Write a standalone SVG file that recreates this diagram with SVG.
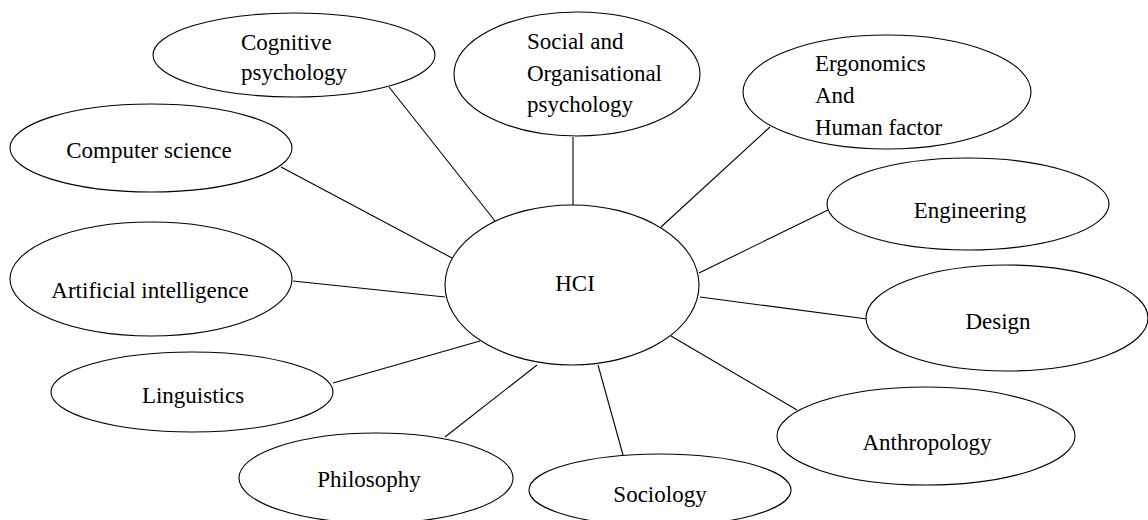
<svg xmlns="http://www.w3.org/2000/svg" width="1148" height="520" viewBox="0 0 1148 520">
  <style>
    .node ellipse { fill: #ffffff; stroke: #000000; stroke-width: 1.1; }
    .node text { font-family: "Liberation Serif", "Times New Roman", serif; font-size: 23px; fill: #000000; }
    .mid { text-anchor: middle; }
    #connectors line { stroke: #000000; stroke-width: 1.1; }
  </style>
  <rect width="1148" height="520" fill="#ffffff"/>

  <!-- spokes from the central HCI ellipse to each discipline -->
  <g id="connectors">
    <line x1="389" y1="87" x2="495" y2="221"/>
    <line x1="573" y1="137" x2="573" y2="205"/>
    <line x1="770" y1="127" x2="661" y2="227"/>
    <line x1="281" y1="167" x2="452" y2="258"/>
    <line x1="828" y1="210" x2="699" y2="273"/>
    <line x1="293" y1="281" x2="445" y2="297"/>
    <line x1="867" y1="319" x2="700" y2="297"/>
    <line x1="333" y1="383" x2="480" y2="341"/>
    <line x1="797" y1="410" x2="671" y2="336"/>
    <line x1="445" y1="437" x2="537" y2="365"/>
    <line x1="623" y1="455" x2="598" y2="365"/>
  </g>

  <g id="hci" class="node">
    <ellipse cx="572" cy="285" rx="127" ry="80"/>
    <text class="mid" x="575" y="291">HCI</text>
  </g>

  <g id="cognitive-psychology" class="node">
    <ellipse cx="294" cy="55" rx="141" ry="42"/>
    <text x="241" y="50">Cognitive</text>
    <text x="241" y="80">psychology</text>
  </g>

  <g id="social-organisational-psychology" class="node">
    <ellipse cx="577" cy="74" rx="123" ry="62"/>
    <text x="527" y="49">Social and</text>
    <text x="527" y="81">Organisational</text>
    <text x="527" y="112">psychology</text>
  </g>

  <g id="ergonomics" class="node">
    <ellipse cx="887" cy="92" rx="144" ry="57"/>
    <text x="815" y="71">Ergonomics</text>
    <text x="815" y="103">And</text>
    <text x="815" y="135">Human factor</text>
  </g>

  <g id="computer-science" class="node">
    <ellipse cx="151" cy="148" rx="141" ry="44"/>
    <text class="mid" x="149" y="158">Computer science</text>
  </g>

  <g id="engineering" class="node">
    <ellipse cx="968" cy="204" rx="141" ry="46"/>
    <text class="mid" x="970" y="218">Engineering</text>
  </g>

  <g id="artificial-intelligence" class="node">
    <ellipse cx="151" cy="279" rx="141" ry="57"/>
    <text class="mid" x="150" y="298">Artificial intelligence</text>
  </g>

  <g id="design" class="node">
    <ellipse cx="1007" cy="318" rx="141" ry="53"/>
    <text class="mid" x="998" y="329">Design</text>
  </g>

  <g id="linguistics" class="node">
    <ellipse cx="192" cy="392" rx="141" ry="40"/>
    <text class="mid" x="193" y="403">Linguistics</text>
  </g>

  <g id="anthropology" class="node">
    <ellipse cx="926" cy="436" rx="149" ry="49"/>
    <text class="mid" x="927" y="450">Anthropology</text>
  </g>

  <g id="philosophy" class="node">
    <ellipse cx="376" cy="478" rx="137" ry="45"/>
    <text class="mid" x="369" y="487">Philosophy</text>
  </g>

  <g id="sociology" class="node">
    <ellipse cx="660" cy="490" rx="131" ry="36"/>
    <text class="mid" x="660" y="502">Sociology</text>
  </g>
</svg>
